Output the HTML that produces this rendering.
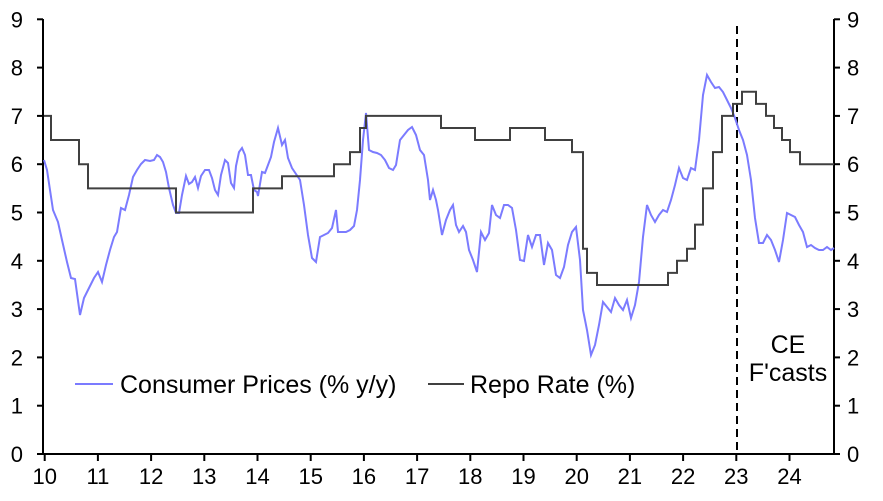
<!DOCTYPE html>
<html><head><meta charset="utf-8"><style>
body{margin:0;background:#fff}
svg text{font-family:"Liberation Sans",Arial,sans-serif;font-size:22px;fill:#000}
svg text.lg{font-size:25px}
</style></head><body>
<svg width="883" height="496" viewBox="0 0 883 496" xmlns="http://www.w3.org/2000/svg">
<g stroke="#000" stroke-width="2" fill="none">
<line x1="43" y1="19" x2="43" y2="454"/>
<line x1="834" y1="19" x2="834" y2="454"/>
<line x1="43" y1="454" x2="834" y2="454"/>
</g>
<g id="ticks" stroke="#000" stroke-width="2"></g>
<g id="labels"></g>
<line x1="737" y1="26" x2="737" y2="454" stroke="#000" stroke-width="2" stroke-dasharray="8,5"/>
<polyline id="cpi" fill="none" stroke="#7b7bff" stroke-width="2" points="44,160 47,170 50,190 53,210 58,222 62,240 67,262 71,278 75,279 80,315 84,298 89,288 94,278 98,272 102,282 106,265 110,250 114,237 117,232 121,208 125,210 129,195 133,177 137,170 141,164 145,160 150,161 154,160 157,155 160,157 163,162 166,172 169,188 173,205 176,213 179,213 182,195 186,176 189,184 192,182 195,177 198,188 201,176 205,170 209,170 212,178 215,190 218,195 221,175 225,160 228,163 231,183 234,188 236,166 239,152 242,148 245,155 248,175 251,175 254,190 257,192 258,196 262,172 265,173 268,165 271,157 274,142 278,128 282,145 285,140 288,158 292,168 296,174 300,180 304,205 308,235 312,258 316,262 320,237 324,235 328,233 332,228 336,210 338,232 342,232 346,232 350,230 354,226 357,210 360,180 363,140 366,113 369,150 373,152 377,153 381,155 385,160 389,168 393,170 396,165 400,140 404,135 408,130 412,127 416,135 420,150 424,155 428,180 430,200 433,190 436,200 438,210 442,235 446,220 450,210 453,205 456,225 459,232 463,226 466,232 469,250 473,260 477,272 481,232 485,240 489,233 492,205 496,215 500,218 504,205 508,205 512,208 516,230 520,260 524,261 528,235 532,247 536,235 540,235 544,265 548,243 552,250 556,275 560,278 564,267 568,245 572,232 576,227 580,260 583,310 587,330 591,355 595,345 599,325 603,302 607,307 611,312 615,298 619,305 623,310 627,300 631,318 635,305 639,282 643,237 647,205 651,215 655,222 659,215 663,210 667,212 671,200 675,185 679,168 683,178 687,180 691,168 695,170 699,140 703,95 707,75 711,82 715,88 719,87 723,92 727,100 731,108 735,118 739,130 743,140 747,155 751,180 755,218 759,243 763,243 767,235 771,240 775,250 779,262 783,240 787,213 791,215 795,217 799,225 803,232 807,247 811,245 815,248 819,250 823,250 827,247 831,250 834,248"/>
<polyline id="repo" fill="none" stroke="#404040" stroke-width="2"/>
<line x1="75" y1="384" x2="113" y2="384" stroke="#7b7bff" stroke-width="2"/>
<text class="lg" x="120" y="393">Consumer Prices (% y/y)</text>
<line x1="428" y1="384" x2="464" y2="384" stroke="#404040" stroke-width="2"/>
<text class="lg" x="470" y="393">Repo Rate (%)</text>
<text class="lg" x="788" y="353" text-anchor="middle">CE</text>
<text class="lg" x="788" y="381" text-anchor="middle">F'casts</text>
</svg>
<script>
const Y=v=>454-v*48.3;
const ns="http://www.w3.org/2000/svg";
const t=document.getElementById('ticks'),l=document.getElementById('labels');
function mk(p,tag,a,txt){const e=document.createElementNS(ns,tag);for(const k in a)e.setAttribute(k,a[k]);if(txt!=null)e.textContent=txt;p.appendChild(e);}
for(let v=0;v<=9;v++){const y=Y(v);
mk(t,'line',{x1:37,y1:y,x2:43,y2:y});mk(t,'line',{x1:834,y1:y,x2:840,y2:y});
mk(l,'text',{x:23,y:y+8,'text-anchor':'end'},v);mk(l,'text',{x:847,y:y+8},v);}
for(let i=0;i<=14;i++){const x=44.7+i*53.2;mk(t,'line',{x1:x,y1:454,x2:x,y2:461});
mk(l,'text',{x:x,y:484,'text-anchor':'middle'},10+i);}
const st=[[44,7],[51,6.5],[79,6],[88,5.5],[176,5],[253,5.5],[282,5.75],[334,6],[350,6.25],[360,6.75],[366,7],[441,6.75],[475,6.5],[510,6.75],[545,6.5],[572,6.25],[583,4.25],[587,3.75],[597,3.5],[668,3.75],[677,4],[687,4.25],[695,4.75],[703,5.5],[713,6.25],[722,7],[733,7.25],[742,7.5],[756,7.25],[766,7],[774,6.75],[782,6.5],[790,6.25],[800,6]];
let pts=[];for(let i=0;i<st.length;i++){const [x,v]=st[i];if(i>0)pts.push(x+','+Y(st[i-1][1]));pts.push(x+','+Y(v));}
pts.push('834,'+Y(6));document.getElementById('repo').setAttribute('points',pts.join(' '));
</script>
</body></html>
